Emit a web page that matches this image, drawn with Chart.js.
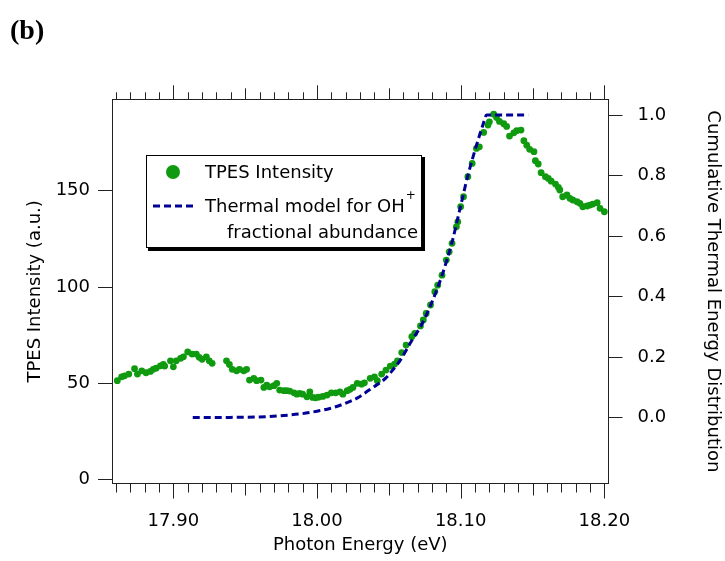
<!DOCTYPE html>
<html>
<head>
<meta charset="utf-8">
<script src="https://cdn.jsdelivr.net/npm/chart.js@4/dist/chart.umd.min.js"></script>
<style>
  body { margin: 0; background: #fff; }
  #grafico { display: block; }
</style>
</head>
<body>
<canvas id="grafico" width="725" height="561"></canvas>
<script>
// TPES data (photon energy in eV, intensity in a.u.)
const energia = [
  17.861, 17.864, 17.866, 17.869, 17.873, 17.875, 17.878, 17.881, 17.884, 17.886,
  17.888, 17.891, 17.893, 17.894, 17.898, 17.900, 17.902, 17.905, 17.907, 17.910,
  17.913, 17.916, 17.918, 17.920, 17.923, 17.925, 17.927,
  17.937, 17.939, 17.941, 17.944, 17.946, 17.949, 17.951, 17.953, 17.956, 17.958,
  17.961, 17.963, 17.965, 17.967, 17.970, 17.972, 17.974, 17.977, 17.979, 17.981,
  17.984, 17.986, 17.988, 17.990, 17.993, 17.995, 17.997, 17.999, 18.001, 18.004,
  18.007, 18.010, 18.013, 18.016, 18.018, 18.021, 18.023, 18.025, 18.028, 18.031,
  18.033, 18.037, 18.040, 18.042, 18.045, 18.048, 18.051, 18.054, 18.056, 18.059,
  18.062, 18.066, 18.068, 18.072, 18.074, 18.076, 18.079, 18.082, 18.084, 18.087,
  18.090, 18.092, 18.094, 18.097, 18.098, 18.100, 18.102, 18.105, 18.108, 18.111,
  18.113, 18.116, 18.119, 18.120, 18.123, 18.125, 18.127, 18.130, 18.132, 18.134,
  18.137, 18.139, 18.142, 18.144, 18.146, 18.148, 18.151, 18.152, 18.154, 18.156,
  18.159, 18.161, 18.163, 18.166, 18.168, 18.169, 18.171, 18.174, 18.176, 18.178,
  18.181, 18.183, 18.185, 18.188, 18.190, 18.192, 18.195, 18.197, 18.200
];
const intensita = [
  51.4, 53.4, 53.9, 54.8, 57.6, 54.8, 56.5, 55.5, 56.2, 57.3,
  57.9, 59.1, 59.9, 59.0, 61.7, 58.6, 61.7, 63.0, 63.8, 66.3,
  65.2, 65.2, 63.5, 62.5, 63.8, 61.7, 60.4,
  61.7, 59.8, 57.3, 56.5, 57.3, 56.5, 57.3, 51.7, 52.6, 51.4,
  51.7, 47.9, 49.1, 48.2, 48.8, 50.0, 46.5, 46.2, 46.2, 46.0,
  45.1, 44.4, 44.8, 44.4, 43.0, 45.6, 42.7, 42.5, 42.8, 43.2,
  43.9, 45.1, 45.1, 45.6, 44.4, 46.2, 46.9, 47.9, 50.0, 49.6,
  50.3, 52.6, 53.4, 51.4, 54.8, 56.9, 59.0, 60.0, 61.7, 66.0,
  69.9, 74.2, 76.0, 79.8, 82.9, 86.3, 90.7, 97.6, 101.0, 106.2,
  114.0, 118.3, 122.7, 131.3, 133.9, 141.7, 146.9, 157.3, 164.2, 172.0,
  172.8, 180.3, 184.1, 185.8, 189.8, 188.0, 186.0, 184.8, 183.4, 178.4,
  180.1, 181.2, 181.5, 176.0, 173.7, 171.5, 170.3, 165.6, 163.9, 159.4,
  157.3, 156.4, 155.0, 153.5, 151.8, 150.4, 146.9, 147.8, 146.1, 145.2,
  144.3, 143.5, 141.7, 142.1, 142.6, 143.1, 143.8, 140.9, 139.1
];

// thermal model (cumulative fraction, right axis)
const energiaModello = [
  17.9135, 17.930, 17.945, 17.960, 17.977, 17.990, 18.000, 18.009, 18.018, 18.029,
  18.036, 18.042, 18.048, 18.053, 18.058, 18.066, 18.072, 18.079, 18.087, 18.094,
  18.100, 18.105, 18.111, 18.116, 18.118, 18.147
];
const frazione = [
  0.000, 0.000, 0.001, 0.002, 0.007, 0.013, 0.021, 0.030, 0.044, 0.067,
  0.090, 0.109, 0.131, 0.159, 0.190, 0.255, 0.300, 0.370, 0.470, 0.580,
  0.700, 0.800, 0.900, 0.975, 1.000, 1.000
];

const tickX = [17.90, 18.00, 18.10, 18.20];
const tickSinistra = [0, 50, 100, 150];
const tickDestra = [0.0, 0.2, 0.4, 0.6, 0.8, 1.0];

const verde = '#109a10';
const blu = '#000096';
const nero = '#222';

Chart.defaults.font.family = '"DejaVu Sans", sans-serif';
Chart.defaults.font.size = 18;
Chart.defaults.color = '#000';

// minor ticks on the x axis, top frame, legend and panel letter
const decorazioni = {
  id: 'decorazioni',
  afterDraw(chart) {
    const ctx = chart.ctx;
    const a = chart.chartArea;
    const sx = chart.scales.x;
    ctx.save();
    ctx.strokeStyle = nero;
    ctx.lineWidth = 1;
    ctx.beginPath();
    ctx.moveTo(a.left, Math.round(a.top) + 0.5);
    ctx.lineTo(a.right, Math.round(a.top) + 0.5);
    for (let k = 1786; k <= 1820; k++) {
      const px = Math.round(sx.getPixelForValue(k / 100)) + 0.5;
      let giu = 9, su = 7;
      if (k % 10 === 0) { giu = 15; su = 14; }
      else if (k % 5 === 0) { giu = 12; su = 11; }
      ctx.moveTo(px, a.bottom);
      ctx.lineTo(px, a.bottom + giu);
      ctx.moveTo(px, a.top);
      ctx.lineTo(px, a.top - su);
    }
    ctx.stroke();

    // legend box with shadow
    ctx.fillStyle = '#000';
    ctx.fillRect(148, 157, 277, 94);
    ctx.fillStyle = '#fff';
    ctx.fillRect(146, 155, 276, 93);
    ctx.strokeStyle = '#000';
    ctx.strokeRect(146.5, 155.5, 275, 92);

    ctx.fillStyle = verde;
    ctx.beginPath();
    ctx.arc(173, 172, 7, 0, Math.PI * 2);
    ctx.fill();

    ctx.strokeStyle = blu;
    ctx.lineWidth = 3;
    ctx.setLineDash([7, 4]);
    ctx.beginPath();
    ctx.moveTo(153, 206);
    ctx.lineTo(194, 206);
    ctx.stroke();
    ctx.setLineDash([]);

    ctx.fillStyle = '#000';
    ctx.font = '18px "DejaVu Sans"';
    ctx.textBaseline = 'alphabetic';
    ctx.textAlign = 'left';
    ctx.fillText('TPES Intensity', 205, 177.5);
    ctx.fillText('Thermal model for OH', 205, 211.5);
    const w = ctx.measureText('Thermal model for OH').width;
    ctx.font = '12px "DejaVu Sans"';
    ctx.fillText('+', 206 + w, 199);
    ctx.font = '18px "DejaVu Sans"';
    ctx.textAlign = 'right';
    ctx.fillText('fractional abundance', 418, 237.5);

    ctx.textAlign = 'left';
    ctx.font = 'bold 28px "Liberation Serif"';
    ctx.fillText('(b)', 10, 39);
    ctx.restore();
  }
};

function disegnaGrafico() {
  const puntiTPES = energia.map((e, i) => ({ x: e, y: intensita[i] }));
  const puntiModello = energiaModello.map((e, i) => ({ x: e, y: frazione[i] }));

  const config = {
    type: 'scatter',
    data: {
      datasets: [
        {
          label: 'Thermal model for OH+ fractional abundance',
          data: puntiModello,
          yAxisID: 'y1',
          showLine: true,
          borderColor: blu,
          borderWidth: 3,
          borderDash: [7, 4],
          pointRadius: 0,
          cubicInterpolationMode: 'monotone'
        },
        {
          label: 'TPES Intensity',
          data: puntiTPES,
          yAxisID: 'y',
          backgroundColor: verde,
          borderWidth: 0,
          pointRadius: 3.4
        }
      ]
    },
    options: {
      responsive: false,
      animation: false,
      devicePixelRatio: 1,
      layout: { padding: { top: 99.3, left: 0, right: 0, bottom: 0 } },
      plugins: { legend: { display: false }, tooltip: { enabled: false } },
      scales: {
        x: {
          type: 'linear',
          position: 'bottom',
          min: 17.8573,
          max: 18.2029,
          afterBuildTicks: s => { s.ticks = tickX.map(v => ({ value: v })); },
          afterFit: s => { s.height = 77.5; },
          grid: { display: false, drawTicks: false },
          border: { display: true, color: nero, width: 1 },
          ticks: { padding: 27, maxRotation: 0, callback: v => v.toFixed(2) },
          title: { display: true, text: 'Photon Energy (eV)', padding: { top: 0, bottom: 5 } }
        },
        y: {
          type: 'linear',
          position: 'left',
          min: -2.0,
          max: 197.5,
          afterBuildTicks: s => { s.ticks = tickSinistra.map(v => ({ value: v })); },
          afterFit: s => { s.width = 112; },
          grid: { drawOnChartArea: false, tickLength: 14, tickColor: nero, tickWidth: 1 },
          border: { display: true, color: nero, width: 1 },
          ticks: { padding: 8, callback: v => String(v) },
          title: { display: true, text: 'TPES Intensity (a.u.)', padding: { top: 25, bottom: 0 } }
        },
        y1: {
          type: 'linear',
          position: 'right',
          min: -0.218,
          max: 1.052,
          afterBuildTicks: s => { s.ticks = tickDestra.map(v => ({ value: v })); },
          afterFit: s => { s.width = 116.5; },
          grid: { drawOnChartArea: false, tickLength: 14, tickColor: nero, tickWidth: 1 },
          border: { display: true, color: nero, width: 1 },
          ticks: { padding: 15, callback: v => v.toFixed(1) },
          title: { display: true, text: 'Cumulative Thermal Energy Distribution', padding: { top: 2, bottom: 0 } }
        }
      }
    },
    plugins: [decorazioni]
  };

  const canvasElement = document.getElementById('grafico');
  new Chart(canvasElement.getContext('2d'), config);
}

disegnaGrafico();
</script>
</body>
</html>
